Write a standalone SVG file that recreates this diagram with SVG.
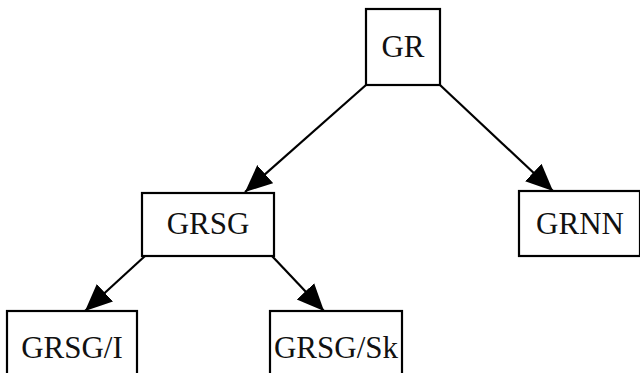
<svg xmlns="http://www.w3.org/2000/svg" width="640" height="373" viewBox="0 0 640 373">
<style>
.box{fill:#ffffff;stroke:#000000;stroke-width:2.2}
.lbl{font-family:"Liberation Serif","Times New Roman",serif;font-size:31px;fill:#111111;text-anchor:middle}
.edge{stroke:#000000;stroke-width:2.2;fill:none;marker-end:url(#ah)}
</style>
<defs>
<marker id="ah" markerUnits="userSpaceOnUse" markerWidth="30" markerHeight="26" refX="27" refY="12" orient="auto">
<path d="M0,0 L27,12 L0,24 Z" fill="#000000"/>
</marker>
</defs>
<rect width="640" height="373" fill="#ffffff"/>
<g id="connectors">
<path class="edge" d="M366,85 L245,192"/>
<path class="edge" d="M440,85 L553,191"/>
<path class="edge" d="M145,256 L85,311"/>
<path class="edge" d="M272,256 L324,311"/>
</g>
<g id="GR">
<rect class="box" x="366" y="9" width="74" height="76"/>
<text class="lbl" x="403" y="57">GR</text>
</g>
<g id="GRSG">
<rect class="box" x="142" y="193" width="132" height="63"/>
<text class="lbl" x="208" y="234">GRSG</text>
</g>
<g id="GRNN">
<rect class="box" x="519" y="191" width="121" height="65"/>
<text class="lbl" x="580" y="234">GRNN</text>
</g>
<g id="GRSG_I">
<rect class="box" x="7" y="311" width="130" height="70"/>
<text class="lbl" x="72" y="358">GRSG/I</text>
</g>
<g id="GRSG_Sk">
<rect class="box" x="270" y="311" width="132" height="70"/>
<text class="lbl" x="336" y="358">GRSG/Sk</text>
</g>
</svg>
